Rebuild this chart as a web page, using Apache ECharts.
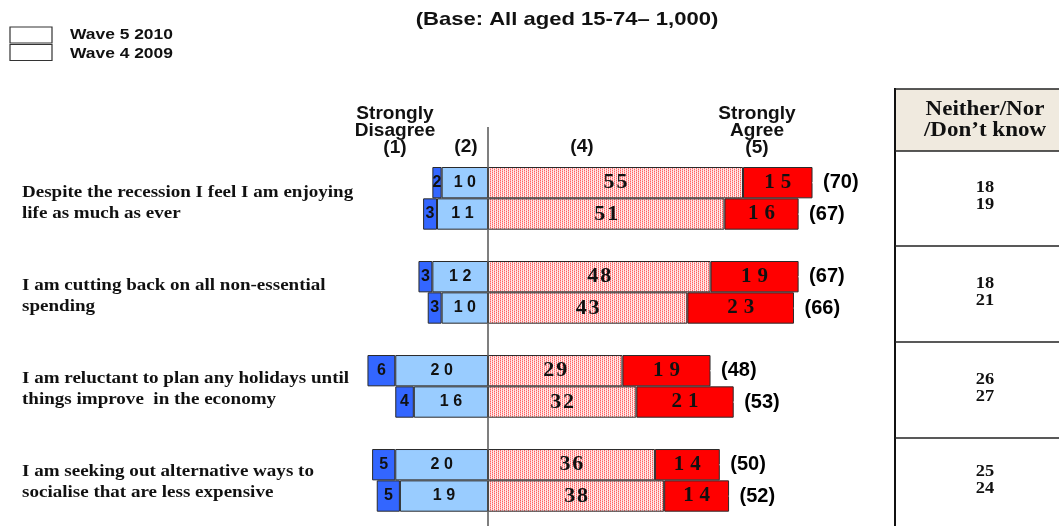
<!DOCTYPE html>
<html><head><meta charset="utf-8">
<script src="https://cdn.jsdelivr.net/npm/echarts@6/dist/echarts.min.js"></script>
<style>html,body{margin:0;padding:0;background:#fff}#chart{width:1059px;height:526px}</style>
</head><body><div id="chart"></div>
<script>
// Survey statements (two lines each)
const statements = [
  ['Despite the recession I feel I am enjoying', 'life as much as ever'],
  ['I am cutting back on all non-essential', 'spending'],
  ['I am reluctant to plan any holidays until', 'things improve  in the economy'],
  ['I am seeking out alternative ways to', 'socialise that are less expensive']
];
const waves = ['Wave 5 2010', 'Wave 4 2009'];

// Wave 5 2010 (%)
const stronglyDisagree2010 = [2, 3, 6, 5];
const disagree2010 = [10, 12, 20, 20];
const agree2010 = [55, 48, 29, 36];
const stronglyAgree2010 = [15, 19, 19, 14];
const neither2010 = [18, 18, 26, 25];

// Wave 4 2009 (%)
const stronglyDisagree2009 = [3, 3, 4, 5];
const disagree2009 = [11, 10, 16, 19];
const agree2009 = [51, 43, 32, 38];
const stronglyAgree2009 = [16, 23, 21, 14];
const neither2009 = [19, 21, 27, 24];

const SANS = 'Liberation Sans, Arial, sans-serif';
const SERIF = 'Liberation Serif, Times New Roman, serif';

// One slot per bar, with an empty slot between statement groups
const slots = [];
statements.forEach((s, g) => {
  slots.push(g + '-2010', g + '-2009');
  if (g < statements.length - 1) slots.push(g + '-gap');
});
function toSlots(a, b, sign) {
  const out = [];
  a.forEach((v, g) => {
    out.push(sign * v, sign * b[g]);
    if (g < a.length - 1) out.push('-');
  });
  return out;
}
const totals2010 = agree2010.map((v, i) => v + stronglyAgree2010[i]);
const totals2009 = agree2009.map((v, i) => v + stronglyAgree2009[i]);
const totalPoints = [];
totals2010.forEach((v, g) => {
  totalPoints.push([v, g * 3], [totals2009[g], g * 3 + 1]);
});

// Dotted pink fill for the "agree" segment
const tile = document.createElement('canvas');
tile.width = 4; tile.height = 4;
const tc = tile.getContext('2d');
tc.fillStyle = '#ffeaea'; tc.fillRect(0, 0, 4, 4);
for (let y = 0; y < 4; y++) {
  tc.fillStyle = (y % 2 === 0) ? '#ff6060' : '#ffb0b0';
  tc.fillRect(0, y, 1, 1);
  tc.fillStyle = (y % 2 === 1) ? '#ff6060' : '#ffb0b0';
  tc.fillRect(2, y, 1, 1);
}

const spaced = (sep) => (p) => String(Math.abs(p.value)).split('').join(sep);
const border = { borderColor: '#2a2a2a', borderWidth: 1 };

const chart = echarts.init(document.getElementById('chart'), null, { renderer: 'canvas' });
chart.setOption({
  animation: false,
  grid: { left: 24.4, right: 107.4, top: 167, height: 344.7 },
  xAxis: { type: 'value', min: -100, max: 100, show: false },
  yAxis: { type: 'category', data: slots, inverse: true, show: false },
  series: [
    {
      name: '(2)', type: 'bar', stack: 'all', barCategoryGap: '0%',
      data: toSlots(disagree2010, disagree2009, -1),
      itemStyle: Object.assign({ color: '#99ccff' }, border),
      label: { show: true, position: 'inside', formatter: spaced('\u2009\u200a'),
        fontFamily: SANS, fontWeight: 'bold', fontSize: 16, color: '#111' }
    },
    {
      name: '(1)', type: 'bar', stack: 'all',
      data: toSlots(stronglyDisagree2010, stronglyDisagree2009, -1),
      itemStyle: Object.assign({ color: '#3366ff' }, border),
      label: { show: true, position: 'inside', formatter: spaced(''),
        fontFamily: SANS, fontWeight: 'bold', fontSize: 16, color: '#111' }
    },
    {
      name: '(4)', type: 'bar', stack: 'all',
      data: toSlots(agree2010, agree2009, 1),
      itemStyle: Object.assign({ color: { image: tile, repeat: 'repeat' } }, border),
      label: { show: true, position: 'inside', formatter: spaced('\u200a'),
        fontFamily: SERIF, fontWeight: 'bold', fontSize: 22, color: '#111' }
    },
    {
      name: '(5)', type: 'bar', stack: 'all',
      data: toSlots(stronglyAgree2010, stronglyAgree2009, 1),
      itemStyle: Object.assign({ color: '#ff0000' }, border),
      label: { show: true, position: 'inside', formatter: spaced('\u2009\u200a'),
        fontFamily: SERIF, fontWeight: 'bold', fontSize: 21, color: '#111' }
    },
    {
      name: 'total', type: 'scatter', data: totalPoints, symbolSize: 1,
      itemStyle: { color: '#ffffff', opacity: 1 },
      label: { show: true, position: 'right', distance: 10,
        formatter: (p) => '(' + p.value[0] + ')',
        fontFamily: SANS, fontWeight: 'bold', fontSize: 20, color: '#000', opacity: 1 }
    }
  ]
});

// Decorations placed from the axes
const zeroX = chart.convertToPixel({ xAxisIndex: 0 }, 0);
const slotY = (i) => chart.convertToPixel({ yAxisIndex: 0 }, i);
const g = [];
const txt = (x, y, text, font, align, extra, sx) => g.push({
  type: 'text', x: x, y: y, z: 10, scaleX: sx || 1,
  style: Object.assign({ text: text, font: font, fill: '#111',
    align: align || 'center', textAlign: align || 'center',
    verticalAlign: 'middle', textVerticalAlign: 'middle' }, extra || {})
});

// title & legend
txt(567, 20, '(Base: All aged 15-74\u2013 1,000)', 'bold 19px ' + SANS, 'center', null, 1.16);
waves.forEach((w, i) => {
  g.push({ type: 'rect', shape: { x: 10, y: 27 + i * 17.5, width: 42, height: 16 },
    style: { fill: '#fff', stroke: '#333', lineWidth: 1.2 } });
  txt(70, 35 + i * 19, w, 'bold 15px ' + SANS, 'left', null, 1.16);
});

// column headers
txt(395, 131, 'Strongly\nDisagree\n(1)', 'bold 18px ' + SANS, 'center', { lineHeight: 16.8 }, 1.06);
txt(466, 147, '(2)', 'bold 18px ' + SANS, 'center', null, 1.06);
txt(582, 147, '(4)', 'bold 18px ' + SANS, 'center', null, 1.06);
txt(757, 131, 'Strongly\nAgree\n(5)', 'bold 18px ' + SANS, 'center', { lineHeight: 16.8 }, 1.06);

// centre axis
g.push({ type: 'line', shape: { x1: zeroX, y1: 127, x2: zeroX, y2: 526 },
  style: { stroke: '#555', lineWidth: 1.5 }, z: 20 });

// statements
statements.forEach((s, i) => {
  const cy = (slotY(i * 3) + slotY(i * 3 + 1)) / 2;
  txt(22, cy + 5 - i, s.join('\n'), 'bold 17px ' + SERIF, 'left', { lineHeight: 21 }, 1.12);
});

// neither / don't know table
const rowLines = [151, 246, 342, 438, 526];
g.push({ type: 'rect', shape: { x: 895, y: 89, width: 170, height: 62 },
  style: { fill: '#f0eadf' } });
txt(985, 120, 'Neither/Nor\n/Don\u2019t know', 'bold 20px ' + SERIF, 'center', { lineHeight: 21 }, 1.15);
g.push({ type: 'line', shape: { x1: 895, y1: 88, x2: 895, y2: 526 }, style: { stroke: '#111', lineWidth: 2 } });
[89, 151, 246, 342, 438].forEach(y => g.push({ type: 'line',
  shape: { x1: 895, y1: y, x2: 1059, y2: y }, style: { stroke: '#222', lineWidth: 1.6 } }));
neither2010.forEach((v, i) => {
  const cy = (rowLines[i] + rowLines[i + 1]) / 2;
  txt(985, cy - 2, v + '\n' + neither2009[i], 'bold 16px ' + SERIF, 'center', { lineHeight: 17 }, 1.15);
});

chart.setOption({ graphic: { elements: g } });
</script>
</body></html>
